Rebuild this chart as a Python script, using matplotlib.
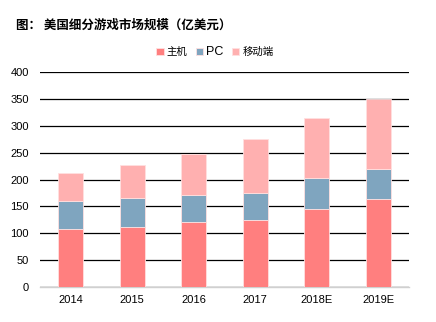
import numpy as np
import matplotlib
matplotlib.use('Agg')
import matplotlib.pyplot as plt

plt.rcParams['font.family'] = ['Noto Sans CJK SC', 'DejaVu Sans']

# data (亿美元)
years = ['2014', '2015', '2016', '2017', '2018E', '2019E']
console = [107, 111, 121, 125, 145, 164]
pc = [53, 55, 51, 50, 57, 56]
mobile = [53, 61, 76, 100, 113, 130]
series_names = ['主机', 'PC', '移动端']
colors = ['#FF7F7F', '#7FA5BF', '#FFB0B0']

fig = plt.figure(figsize=(4.36, 3.22), dpi=100)
ax = fig.add_axes([40 / 436, 1 - 287 / 322, 369 / 436, 215 / 322])

x = np.arange(len(years))
bottom = np.zeros(len(years))
for vals, name, c in zip([console, pc, mobile], series_names, colors):
    ax.bar(x, vals, 0.4, bottom=bottom, color=c, label=name,
           edgecolor='#FFE0E0', linewidth=0.6, zorder=3)
    bottom += np.array(vals)

ax.set_xlim(-0.5, len(years) - 0.5)
ax.set_ylim(0, 400)
ax.set_yticks(np.arange(0, 401, 50))
ax.set_xticks(x)
ax.set_xticklabels(years)
ax.yaxis.grid(True, color='black', linewidth=0.9, zorder=0)
ax.set_axisbelow(True)
for s in ['top', 'right', 'left']:
    ax.spines[s].set_visible(False)
ax.spines['bottom'].set_color('#D0D0D0')
ax.spines['bottom'].set_linewidth(1.0)
ax.tick_params(axis='both', length=0, labelsize=8, colors='black')
ax.tick_params(axis='x', pad=6)
ax.tick_params(axis='y', pad=8)
for lbl in ax.get_xticklabels() + ax.get_yticklabels():
    lbl.set_family('Liberation Sans')

fig.text(16 / 436, 1 - 25 / 322, '图： 美国细分游戏市场规模（亿美元）',
         fontsize=9, fontweight='bold', va='center', ha='left')

leg = fig.legend(loc='center', bbox_to_anchor=(215 / 436, 1 - 52 / 322), ncol=3,
                 frameon=False, fontsize=7.5, handlelength=0.7, handleheight=0.7,
                 handletextpad=0.3, columnspacing=0.8)
leg.get_texts()[1].set_family('Liberation Sans')
leg.get_texts()[1].set_fontsize(9)

fig.savefig('out.png', dpi=100)
